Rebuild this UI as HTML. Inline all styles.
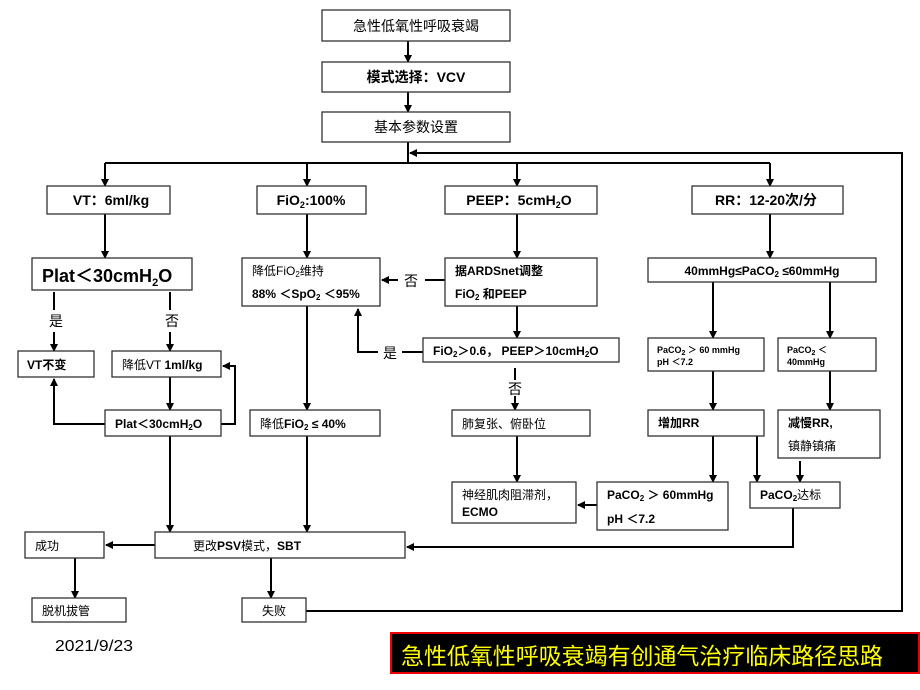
<!DOCTYPE html>
<html><head><meta charset="utf-8"><style>
body{margin:0;background:#fff;}
svg{display:block;font-family:"Liberation Sans","Noto Sans CJK SC",sans-serif;}
.b{fill:#fff;stroke:#333;stroke-width:1.3}
.l{stroke:#000;stroke-width:2;fill:none}
text{font-size:12px;fill:#000;font-weight:bold}
.c{text-anchor:middle}
.n{font-weight:normal}
</style></head><body>
<svg width="920" height="690" viewBox="0 0 920 690">
<defs><marker id="a" markerWidth="8" markerHeight="8" refX="7" refY="4" orient="auto" markerUnits="userSpaceOnUse"><path d="M0,0L8,4L0,8z" fill="#000"/></marker></defs>
<g class="l">
<line x1="408" y1="41" x2="408" y2="62" marker-end="url(#a)"/>
<line x1="408" y1="92" x2="408" y2="112" marker-end="url(#a)"/>
<line x1="408" y1="142" x2="408" y2="163"/>
<line x1="105" y1="163" x2="770" y2="163"/>
<line x1="105" y1="163" x2="105" y2="186" marker-end="url(#a)"/>
<line x1="307" y1="163" x2="307" y2="186" marker-end="url(#a)"/>
<line x1="517" y1="163" x2="517" y2="186" marker-end="url(#a)"/>
<line x1="770" y1="163" x2="770" y2="186" marker-end="url(#a)"/>
<polyline points="306,611 902,611 902,153 410,153" marker-end="url(#a)"/>
<line x1="105" y1="214" x2="105" y2="258" marker-end="url(#a)"/>
<line x1="307" y1="214" x2="307" y2="258" marker-end="url(#a)"/>
<line x1="517" y1="214" x2="517" y2="258" marker-end="url(#a)"/>
<line x1="770" y1="214" x2="770" y2="258" marker-end="url(#a)"/>
<line x1="54" y1="292" x2="54" y2="310"/>
<line x1="54" y1="332" x2="54" y2="351" marker-end="url(#a)"/>
<line x1="170" y1="292" x2="170" y2="310"/>
<line x1="170" y1="332" x2="170" y2="351" marker-end="url(#a)"/>
<line x1="170" y1="377" x2="170" y2="410" marker-end="url(#a)"/>
<polyline points="221,424 235,424 235,366 223,366" marker-end="url(#a)"/>
<polyline points="105,424 54,424 54,379" marker-end="url(#a)"/>
<line x1="445" y1="280" x2="425" y2="280"/>
<line x1="398" y1="280" x2="382" y2="280" marker-end="url(#a)"/>
<polyline points="423,352 402,352"/>
<polyline points="378,352 358,352 358,309" marker-end="url(#a)"/>
<line x1="517" y1="306" x2="517" y2="338" marker-end="url(#a)"/>
<line x1="515" y1="368" x2="515" y2="380"/>
<line x1="515" y1="396" x2="515" y2="410" marker-end="url(#a)"/>
<line x1="517" y1="436" x2="517" y2="482" marker-end="url(#a)"/>
<line x1="597" y1="505" x2="578" y2="505" marker-end="url(#a)"/>
<line x1="713" y1="282" x2="713" y2="338" marker-end="url(#a)"/>
<line x1="830" y1="282" x2="830" y2="338" marker-end="url(#a)"/>
<line x1="713" y1="371" x2="713" y2="410" marker-end="url(#a)"/>
<line x1="830" y1="371" x2="830" y2="410" marker-end="url(#a)"/>
<line x1="713" y1="436" x2="713" y2="482" marker-end="url(#a)"/>
<line x1="757" y1="436" x2="757" y2="482" marker-end="url(#a)"/>
<line x1="800" y1="461" x2="800" y2="482" marker-end="url(#a)"/>
<polyline points="793,508 793,547 407,547" marker-end="url(#a)"/>
<line x1="170" y1="436" x2="170" y2="532" marker-end="url(#a)"/>
<line x1="307" y1="436" x2="307" y2="532" marker-end="url(#a)"/>
<line x1="307" y1="306" x2="307" y2="410" marker-end="url(#a)"/>
<line x1="155" y1="545" x2="106" y2="545" marker-end="url(#a)"/>
<line x1="75" y1="558" x2="75" y2="598" marker-end="url(#a)"/>
<line x1="271" y1="558" x2="271" y2="598" marker-end="url(#a)"/>
</g>
<rect class="b" x="322" y="10" width="188" height="31"/>
<rect class="b" x="322" y="62" width="188" height="30"/>
<rect class="b" x="322" y="112" width="188" height="30"/>
<rect class="b" x="47" y="186" width="123" height="28"/>
<rect class="b" x="257" y="186" width="109" height="28"/>
<rect class="b" x="445" y="186" width="152" height="28"/>
<rect class="b" x="692" y="186" width="151" height="28"/>
<rect class="b" x="32" y="258" width="160" height="32"/>
<rect class="b" x="242" y="258" width="138" height="48"/>
<rect class="b" x="445" y="258" width="152" height="48"/>
<rect class="b" x="648" y="258" width="228" height="24"/>
<rect class="b" x="18" y="351" width="76" height="26"/>
<rect class="b" x="112" y="351" width="109" height="26"/>
<rect class="b" x="105" y="410" width="116" height="26"/>
<rect class="b" x="250" y="410" width="130" height="26"/>
<rect class="b" x="423" y="338" width="196" height="24"/>
<rect class="b" x="452" y="410" width="138" height="26"/>
<rect class="b" x="452" y="482" width="124" height="41"/>
<rect class="b" x="597" y="482" width="131" height="48"/>
<rect class="b" x="648" y="338" width="116" height="33"/>
<rect class="b" x="778" y="338" width="98" height="33"/>
<rect class="b" x="648" y="410" width="116" height="26"/>
<rect class="b" x="778" y="410" width="102" height="48"/>
<rect class="b" x="750" y="482" width="90" height="26"/>
<rect class="b" x="155" y="532" width="250" height="26"/>
<rect class="b" x="25" y="532" width="79" height="26"/>
<rect class="b" x="32" y="598" width="94" height="24"/>
<rect class="b" x="242" y="598" width="64" height="24"/>
<text class="c n" x="416" y="31" style="font-size:14px">急性低氧性呼吸衰竭</text>
<text class="c" x="416" y="82" style="font-size:14px">模式选择：VCV</text>
<text class="c n" x="416" y="132" style="font-size:14px">基本参数设置</text>
<text class="c" x="111" y="205" style="font-size:14px">VT：6ml/kg</text>
<text class="c" x="311" y="205" style="font-size:14px">FiO<tspan font-size="9" dy="3">2</tspan><tspan dy="-3">:100%</tspan></text>
<text class="c" x="519" y="205" style="font-size:14px">PEEP：5cmH<tspan font-size="9" dy="3">2</tspan><tspan dy="-3">O</tspan></text>
<text class="c" x="766" y="205" style="font-size:14px">RR：12-20次/分</text>
<text x="42" y="282" style="font-size:18px">Plat＜30cmH<tspan font-size="11" dy="4">2</tspan><tspan dy="-4">O</tspan></text>
<text x="252" y="275" class="n">降低FiO<tspan font-size="8" dy="2">2</tspan><tspan dy="-2">维持</tspan></text>
<text x="252" y="298">88% ＜SpO<tspan font-size="8" dy="2">2</tspan><tspan dy="-2"> ＜95%</tspan></text>
<text x="455" y="275">据ARDSnet调整</text>
<text x="455" y="298">FiO<tspan font-size="8" dy="2">2</tspan><tspan dy="-2"> 和PEEP</tspan></text>
<text class="c" x="762" y="275">40mmHg≤PaCO<tspan font-size="8" dy="2">2</tspan><tspan dy="-2"> ≤60mmHg</tspan></text>
<text class="c n" x="56" y="326" style="font-size:14px">是</text>
<text class="c n" x="172" y="326" style="font-size:14px">否</text>
<text class="c n" x="411" y="286" style="font-size:14px">否</text>
<text class="c n" x="390" y="358" style="font-size:14px">是</text>
<text class="c n" x="515" y="394" style="font-size:14px">否</text>
<text x="27" y="369">VT不变</text>
<text x="122" y="369" class="n">降低VT <tspan font-weight="bold">1ml/kg</tspan></text>
<text x="115" y="428">Plat＜30cmH<tspan font-size="8" dy="2">2</tspan><tspan dy="-2">O</tspan></text>
<text x="260" y="428"><tspan font-weight="normal">降低</tspan>FiO<tspan font-size="8" dy="2">2</tspan><tspan dy="-2"> ≤ 40%</tspan></text>
<text x="433" y="355">FiO<tspan font-size="8" dy="2">2</tspan><tspan dy="-2">＞0.6， PEEP＞10cmH</tspan><tspan font-size="8" dy="2">2</tspan><tspan dy="-2">O</tspan></text>
<text x="462" y="428" class="n">肺复张、俯卧位</text>
<text x="462" y="499" class="n">神经肌肉阻滞剂，</text>
<text x="462" y="516">ECMO</text>
<text x="607" y="499">PaCO<tspan font-size="8" dy="2">2</tspan><tspan dy="-2"> ＞ 60mmHg</tspan></text>
<text x="607" y="523">pH ＜7.2</text>
<text x="657" y="353" style="font-size:9px">PaCO<tspan font-size="7" dy="2">2</tspan><tspan dy="-2"> ＞ 60 mmHg</tspan></text>
<text x="657" y="365" style="font-size:9px">pH ＜7.2</text>
<text x="787" y="353" style="font-size:9px">PaCO<tspan font-size="7" dy="2">2</tspan><tspan dy="-2"> ＜</tspan></text>
<text x="787" y="365" style="font-size:9px">40mmHg</text>
<text x="658" y="427">增加RR</text>
<text x="788" y="427">减慢RR,</text>
<text x="788" y="450" class="n">镇静镇痛</text>
<text x="760" y="499">PaCO<tspan font-size="8" dy="2">2</tspan><tspan dy="-2" font-weight="normal">达标</tspan></text>
<text x="193" y="550"><tspan font-weight="normal">更改</tspan>PSV<tspan font-weight="normal">模式，</tspan>SBT</text>
<text x="35" y="550" class="n">成功</text>
<text x="42" y="615" class="n">脱机拔管</text>
<text x="262" y="615" class="n">失败</text>
<text x="55" y="651" class="n" style="font-size:16px" textLength="78" lengthAdjust="spacingAndGlyphs">2021/9/23</text>
<rect x="391" y="633" width="528" height="40" fill="#000" stroke="#e00" stroke-width="2"/>
<text x="401" y="664" class="n" style="font-size:23px;fill:#ffff00" textLength="482" lengthAdjust="spacingAndGlyphs">急性低氧性呼吸衰竭有创通气治疗临床路径思路</text>
</svg>
</body></html>
